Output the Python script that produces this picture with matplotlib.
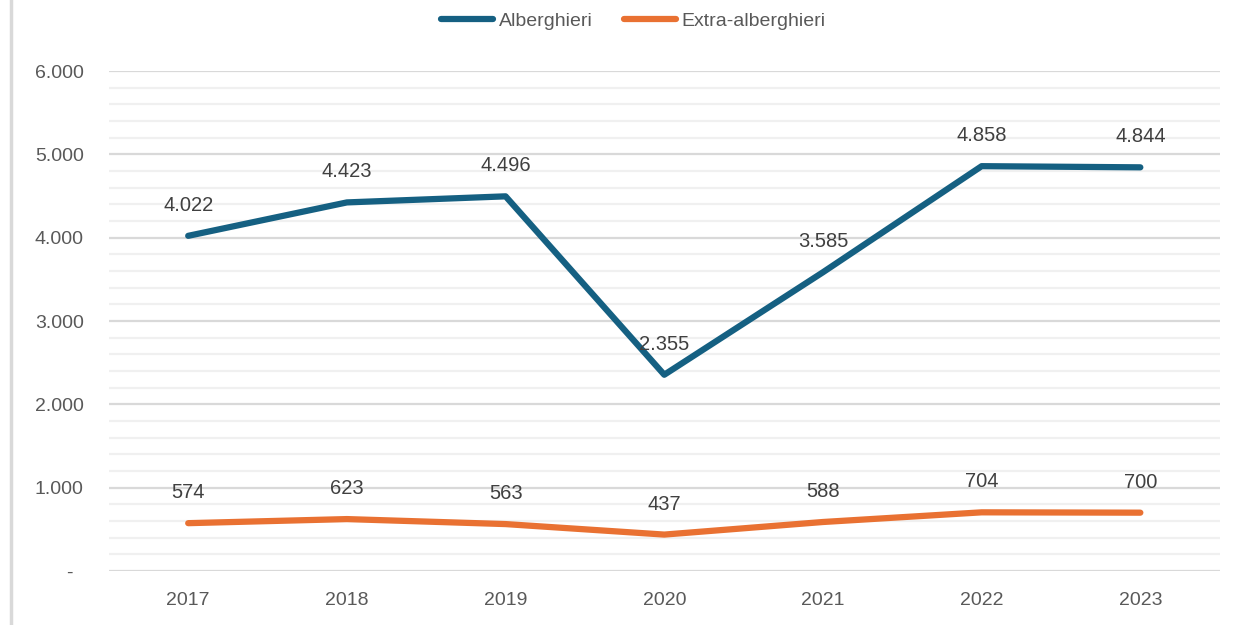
import matplotlib
matplotlib.use("Agg")
import matplotlib.pyplot as plt
from matplotlib.lines import Line2D
from matplotlib.ticker import MultipleLocator, FuncFormatter

years = ["2017", "2018", "2019", "2020", "2021", "2022", "2023"]
alberghieri = [4022, 4423, 4496, 2355, 3585, 4858, 4844]
extra_alberghieri = [574, 623, 563, 437, 588, 704, 700]
series_names = ["Alberghieri", "Extra-alberghieri"]
colors = ["#156082", "#E97132"]

plt.rcParams['font.family'] = ['Liberation Sans', 'DejaVu Sans']

fig = plt.figure(figsize=(12.37, 6.25), dpi=100)
ax = fig.add_axes([0.088, 0.0864, 0.898, 0.8])

x = list(range(len(years)))
for vals, name, c in zip([alberghieri, extra_alberghieri], series_names, colors):
    ax.plot(x, vals, color=c, lw=4.5, solid_capstyle='round', solid_joinstyle='round', label=name, zorder=3)
    for xi, v in zip(x, vals):
        ax.annotate(f"{v:,}".replace(",", "."), (xi, v), xytext=(0, 22), textcoords='offset points',
                    ha='center', va='center', fontsize=14.5, color='#404040', zorder=4)

ax.set_xlim(-0.5, len(years) - 0.5)
ax.set_ylim(0, 6000)
ax.set_xticks(x)
ax.set_xticklabels(years)
ax.yaxis.set_major_locator(MultipleLocator(1000))
ax.yaxis.set_minor_locator(MultipleLocator(200))

def fmt(v, pos):
    if v == 0:
        return "-  "
    return f"{int(v):,}".replace(",", ".")
ax.yaxis.set_major_formatter(FuncFormatter(fmt))

ax.grid(which='major', axis='y', color='#d9d9d9', lw=1.6, zorder=0)
ax.grid(which='minor', axis='y', color='#f0f0f0', lw=1.6, zorder=0)
ax.set_axisbelow(True)
for s in ax.spines.values():
    s.set_visible(False)
ax.tick_params(axis='both', which='both', length=0, labelsize=14, labelcolor='#595959')
ax.tick_params(axis='y', pad=18)
ax.tick_params(axis='x', pad=15)

leg = fig.legend(loc='center', bbox_to_anchor=(0.512, 0.966), ncol=2, frameon=False,
                 fontsize=14, handlelength=2.7, handletextpad=0.28, columnspacing=1.6)
for t in leg.get_texts():
    t.set_color('#595959')

fig.add_artist(Line2D([0.0085, 0.0085], [0, 1], transform=fig.transFigure, color='#d9d9d9', lw=2.5))

fig.savefig("out.png", dpi=100, facecolor='white')
